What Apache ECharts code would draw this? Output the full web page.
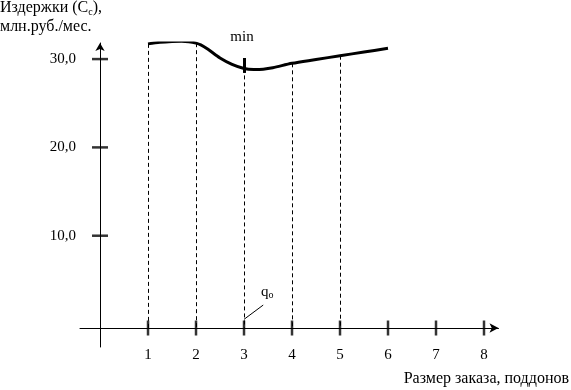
<!DOCTYPE html>
<html>
<head>
<meta charset="utf-8">
<script src="https://cdn.jsdelivr.net/npm/echarts@6/dist/echarts.min.js"></script>
<style>
html,body{margin:0;padding:0;background:#fff;}
#c{width:571px;height:390px;}
</style>
</head>
<body>
<div id="c"></div>
<script>
// ---- data ----
var curveX = [1.0, 1.25, 1.5, 1.7, 1.85, 2.0, 2.1, 2.25, 2.5, 2.75, 3.0, 3.2, 3.4, 3.6, 4.0, 4.5, 5.0, 5.5, 6.0];
var curveY = [31.72, 31.9, 32.0, 32.03, 31.97, 31.8, 31.6, 31.1, 30.12, 29.4, 28.94, 28.83, 28.86, 29.02, 29.52, 29.95, 30.38, 30.8, 31.22];
var xTickValues = [1, 2, 3, 4, 5, 6, 7, 8];
var yTickValues = [10, 20, 30];
var dropLineX = [1, 2, 3, 4, 5];
var minX = 3;

var AXIS_Y = -0.45; // value at which the x axis line lies
var FONT = '"Liberation Serif", "Times New Roman", serif';

function curveAt(x) {
  var i = curveX.indexOf(x);
  return curveY[i];
}
var curveData = curveX.map(function (x, i) { return [x, curveY[i]]; });

var dropLines = dropLineX.map(function (x) {
  return [{ coord: [x, curveAt(x)] }, { coord: [x, AXIS_Y] }];
});

var chart = echarts.init(document.getElementById('c'), null, { renderer: 'canvas' });
chart.setOption({
  animation: false,
  backgroundColor: '#fff',
  grid: { left: 80, right: 72.5, top: 43, bottom: 43, containLabel: false },
  xAxis: {
    type: 'value',
    min: -0.417, max: 8.302,
    axisLine: { show: true, onZero: false, lineStyle: { color: '#000', width: 1 },
                symbol: ['none', 'arrow'], symbolSize: [7, 9] },
    offset: -19,
    axisTick: { show: false },
    splitLine: { show: false },
    axisLabel: { customValues: xTickValues, margin: 20, color: '#000', fontFamily: FONT, fontSize: 15 }
  },
  yAxis: {
    type: 'value',
    min: -2.60, max: 31.82,
    axisLine: { show: true, onZero: true, lineStyle: { color: '#000', width: 1 },
                symbol: ['none', 'arrow'], symbolSize: [7, 8] },
    axisTick: { show: false },
    splitLine: { show: false },
    axisLabel: { customValues: yTickValues, margin: 4, color: '#000', fontFamily: FONT, fontSize: 15,
                 formatter: function (v) { return v.toFixed(1).replace('.', ','); } }
  },
  series: [
    {
      type: 'line',
      data: curveData,
      smooth: 0.3,
      showSymbol: false,
      silent: true,
      lineStyle: { color: '#000', width: 3 },
      markLine: {
        silent: true,
        symbol: ['none', 'none'],
        label: { show: false },
        lineStyle: { color: '#000', width: 1, type: [4, 3] },
        data: dropLines.concat([
          [{ coord: [minX, 30.12], lineStyle: { type: 'solid', width: 3, color: '#000' } }, { coord: [minX, 28.43] }],
          [{ coord: [minX, 0.53], lineStyle: { type: 'solid', width: 1, color: '#000' } }, { coord: [3.40, 2.15] }]
        ])
      }
    },
    {
      type: 'scatter',
      silent: true,
      data: xTickValues.map(function (v) { return [v, AXIS_Y]; }),
      symbol: 'rect',
      symbolSize: [2.5, 15],
      itemStyle: { color: '#000' }
    },
    {
      type: 'scatter',
      silent: true,
      data: yTickValues.map(function (v) { return [0, v]; }),
      symbol: 'rect',
      symbolSize: [16, 2.5],
      itemStyle: { color: '#000' }
    }
  ],
  graphic: [
    {
      type: 'text', left: 0, top: 0,
      style: {
        text: '{a|Издержки (С}{s|c}{a|),}\n{a|млн.руб./мес.}',
        fill: '#000',
        rich: {
          a: { fontFamily: FONT, fontSize: 16, lineHeight: 19, fill: '#000' },
          s: { fontFamily: FONT, fontSize: 10, lineHeight: 10, verticalAlign: 'bottom', fill: '#000' }
        }
      }
    },
    {
      type: 'text', x: 242, y: 37,
      style: { text: 'min', fontFamily: FONT, fontSize: 15, fill: '#000', align: 'center', verticalAlign: 'middle' }
    },
    {
      type: 'text', x: 261, y: 292,
      style: {
        text: '{a|q}{s|o}',
        align: 'left', verticalAlign: 'middle',
        rich: {
          a: { fontFamily: FONT, fontSize: 15, lineHeight: 17, fill: '#000' },
          s: { fontFamily: FONT, fontSize: 10, lineHeight: 10, verticalAlign: 'bottom', fill: '#000' }
        }
      }
    },
    {
      type: 'text', right: 2, top: 371,
      style: { text: 'Размер заказа, поддонов', fontFamily: FONT, fontSize: 16, fill: '#000' }
    }
  ]
});
</script>
</body>
</html>
